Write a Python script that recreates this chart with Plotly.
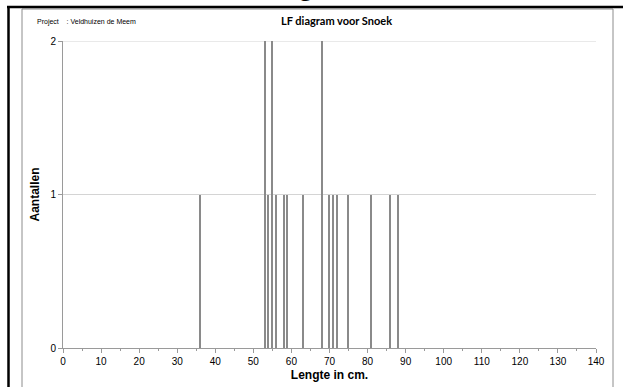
import plotly.graph_objects as go

# Data
lengths = [36, 53, 54, 55, 56, 58, 59, 63, 68, 70, 71, 72, 75, 81, 86, 88]
counts = [1, 2, 1, 2, 1, 1, 1, 1, 2, 1, 1, 1, 1, 1, 1, 1]
x_ticks = list(range(0, 141, 10))
y_ticks = [0, 1, 2]

W, H = 623, 387
L, R, T, B = 63, 27, 41, 39
PW, PH = W - L - R, H - T - B
ARIAL = "'Liberation Sans', Arial, sans-serif"

def px(xp):
    return (xp - L) / PW

def py(yp):
    return (H - B - yp) / PH

fig = go.Figure()
fig.add_trace(go.Bar(
    x=lengths, y=counts, width=0.4,
    marker=dict(color="#8a8a8a", line=dict(width=0)),
    showlegend=False, hoverinfo="x+y",
))

fig.update_layout(
    width=W, height=H,
    margin=dict(l=L, r=R, t=T, b=B, pad=0, autoexpand=False),
    paper_bgcolor="white", plot_bgcolor="white",
    font=dict(family=ARIAL, size=10, color="#000"),
    bargap=0,
    xaxis=dict(
        range=[0, 140], tickmode="array", tickvals=x_ticks,
        showgrid=False, zeroline=False, automargin=False,
        showline=True, linecolor="#9a9a9a", linewidth=1,
        ticks="outside", ticklen=4, tickcolor="#9a9a9a",
        minor=dict(dtick=5, ticks="outside", ticklen=2, tickcolor="#9a9a9a"),
        tickfont=dict(size=10, family=ARIAL),
        title=dict(text="<b>Lengte in cm.</b>", font=dict(size=12, family=ARIAL), standoff=4),
        fixedrange=True,
    ),
    yaxis=dict(
        range=[0, 2], tickmode="array", tickvals=y_ticks,
        showgrid=True, gridcolor="#d4d4d4", gridwidth=1,
        zeroline=False, automargin=False,
        showline=True, linecolor="#9a9a9a", linewidth=1,
        ticks="outside", ticklen=4, tickcolor="#9a9a9a",
        tickfont=dict(size=10, family=ARIAL),
        title=dict(text="<b>Aantallen</b>", font=dict(size=12, family=ARIAL), standoff=8),
        fixedrange=True,
    ),
    shapes=[
        dict(type="line", xref="paper", yref="y", x0=0, x1=1, y0=2, y1=2,
             line=dict(color="#d4d4d4", width=1), layer="below"),
        dict(type="rect", xref="paper", yref="paper",
             x0=px(22), x1=px(613), y0=py(400), y1=py(9),
             line=dict(color="#8c8c8c", width=1), fillcolor="rgba(0,0,0,0)", layer="below"),
        dict(type="line", xref="paper", yref="paper",
             x0=px(7), x1=px(630), y0=py(7), y1=py(7),
             line=dict(color="#000", width=2.5)),
        dict(type="line", xref="paper", yref="paper",
             x0=px(8.5), x1=px(8.5), y0=py(6), y1=py(400),
             line=dict(color="#000", width=2.5)),
    ],
    annotations=[
        dict(text="<b>LF diagram voor Snoek</b>", xref="paper", yref="paper",
             x=px(336), y=py(21), showarrow=False, xanchor="center", yanchor="middle",
             font=dict(size=11, family="Lato, 'Open Sans', sans-serif")),
        dict(text="Project&nbsp;&nbsp;&nbsp;&nbsp;: Veldhuizen de Meem", xref="paper", yref="paper",
             x=px(35), y=py(22), showarrow=False, xanchor="left", yanchor="middle",
             font=dict(size=7, family=ARIAL)),
        dict(text="Zeer goed.", xref="paper", yref="paper",
             x=px(300), y=py(4), showarrow=False, xanchor="center", yanchor="bottom",
             font=dict(size=30, family="Lato, sans-serif")),
    ],
)

fig.write_html("out.html")
